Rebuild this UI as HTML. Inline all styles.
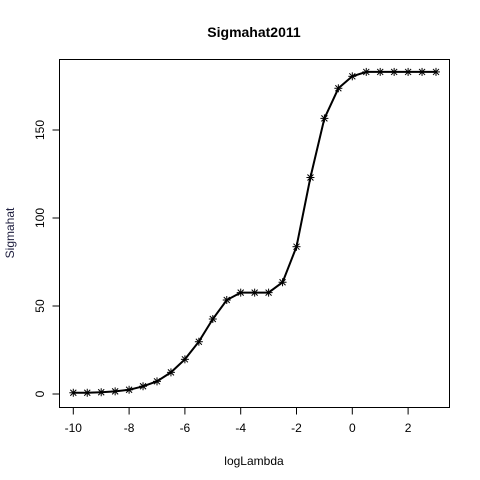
<!DOCTYPE html>
<html><head><meta charset="utf-8"><style>
html,body{margin:0;padding:0;background:#fff;}
svg{display:block;font-family:"Liberation Sans",Arial,sans-serif;}
</style></head><body>
<svg id="chart" width="480" height="480" viewBox="0 0 480 480" xmlns="http://www.w3.org/2000/svg">
<rect width="480" height="480" fill="#fff"/>
<text x="254" y="37" text-anchor="middle" font-size="14" font-weight="bold">Sigmahat2011</text>
<rect x="59.5" y="59.5" width="390" height="348" fill="none" stroke="#000" stroke-width="1"/>
<text x="254" y="465" text-anchor="middle" font-size="12">logLambda</text>
<text x="14" y="233" text-anchor="middle" font-size="12" fill="#202040" transform="rotate(-90 14 233)">Sigmahat</text>
<g id="axes"></g>
<g id="series"></g>
</svg>
<script>
const xVals=[-10,-9.5,-9,-8.5,-8,-7.5,-7,-6.5,-6,-5.5,-5,-4.5,-4,-3.5,-3,-2.5,-2,-1.5,-1,-0.5,0,0.5,1,1.5,2,2.5,3];
const yVals=[0.7,0.7,1,1.5,2.4,4.4,7.2,12.3,19.7,29.7,42.6,53.4,57.6,57.6,57.6,63.5,83.7,123,156.6,173.7,180.5,183,183,183,183,183,183];
const xTicks=[-10,-8,-6,-4,-2,0,2];
const yTicks=[0,50,100,150];
const NS="http://www.w3.org/2000/svg";
function sx(v){return 73.3+(v+10)*27.9;}
function sy(v){return 394-v*1.76;}
function mk(t,a,p){const e=document.createElementNS(NS,t);for(const k in a)e.setAttribute(k,a[k]);p.appendChild(e);return e;}
const axes=document.getElementById('axes');
const ser=document.getElementById('series');
mk('line',{x1:sx(xTicks[0]),x2:sx(xTicks[xTicks.length-1]),y1:407.5,y2:407.5,stroke:'#000'},axes);
xTicks.forEach(t=>{
  const l=mk('line',{x1:sx(t),x2:sx(t),y1:407.5,y2:414.5,stroke:'#000'},axes);
  
  
  const tx=mk('text',{x:sx(t),y:432,'text-anchor':'middle','font-size':12},axes);
  tx.textContent=String(t);
  
  
});
mk('line',{x1:59.5,x2:59.5,y1:sy(yTicks[0]),y2:sy(yTicks[yTicks.length-1]),stroke:'#000'},axes);
yTicks.forEach(t=>{
  const l=mk('line',{x1:52.5,x2:59.5,y1:sy(t),y2:sy(t),stroke:'#000'},axes);
  
  
  const y=sy(t);
  const tx=mk('text',{x:44,y:y,'text-anchor':'middle','font-size':12,transform:`rotate(-90 44 ${y})`},axes);
  tx.textContent=String(t);
  
  
});
const pts=xVals.map((x,i)=>sx(x).toFixed(1)+','+sy(yVals[i]).toFixed(1)).join(' ');
const pl=mk('polyline',{points:pts,fill:'none',stroke:'#000','stroke-width':2},ser);


xVals.forEach((x,i)=>{
  const cx=sx(x),cy=sy(yVals[i]),r=4;
  const g=mk('g',{stroke:'#000','stroke-width':1},ser);
  
  
  mk('line',{x1:cx-r,x2:cx+r,y1:cy,y2:cy},g);
  mk('line',{x1:cx,x2:cx,y1:cy-r,y2:cy+r},g);
  mk('line',{x1:cx-r*0.75,x2:cx+r*0.75,y1:cy-r*0.75,y2:cy+r*0.75},g);
  mk('line',{x1:cx-r*0.75,x2:cx+r*0.75,y1:cy+r*0.75,y2:cy-r*0.75},g);
});
</script>
</body></html>
